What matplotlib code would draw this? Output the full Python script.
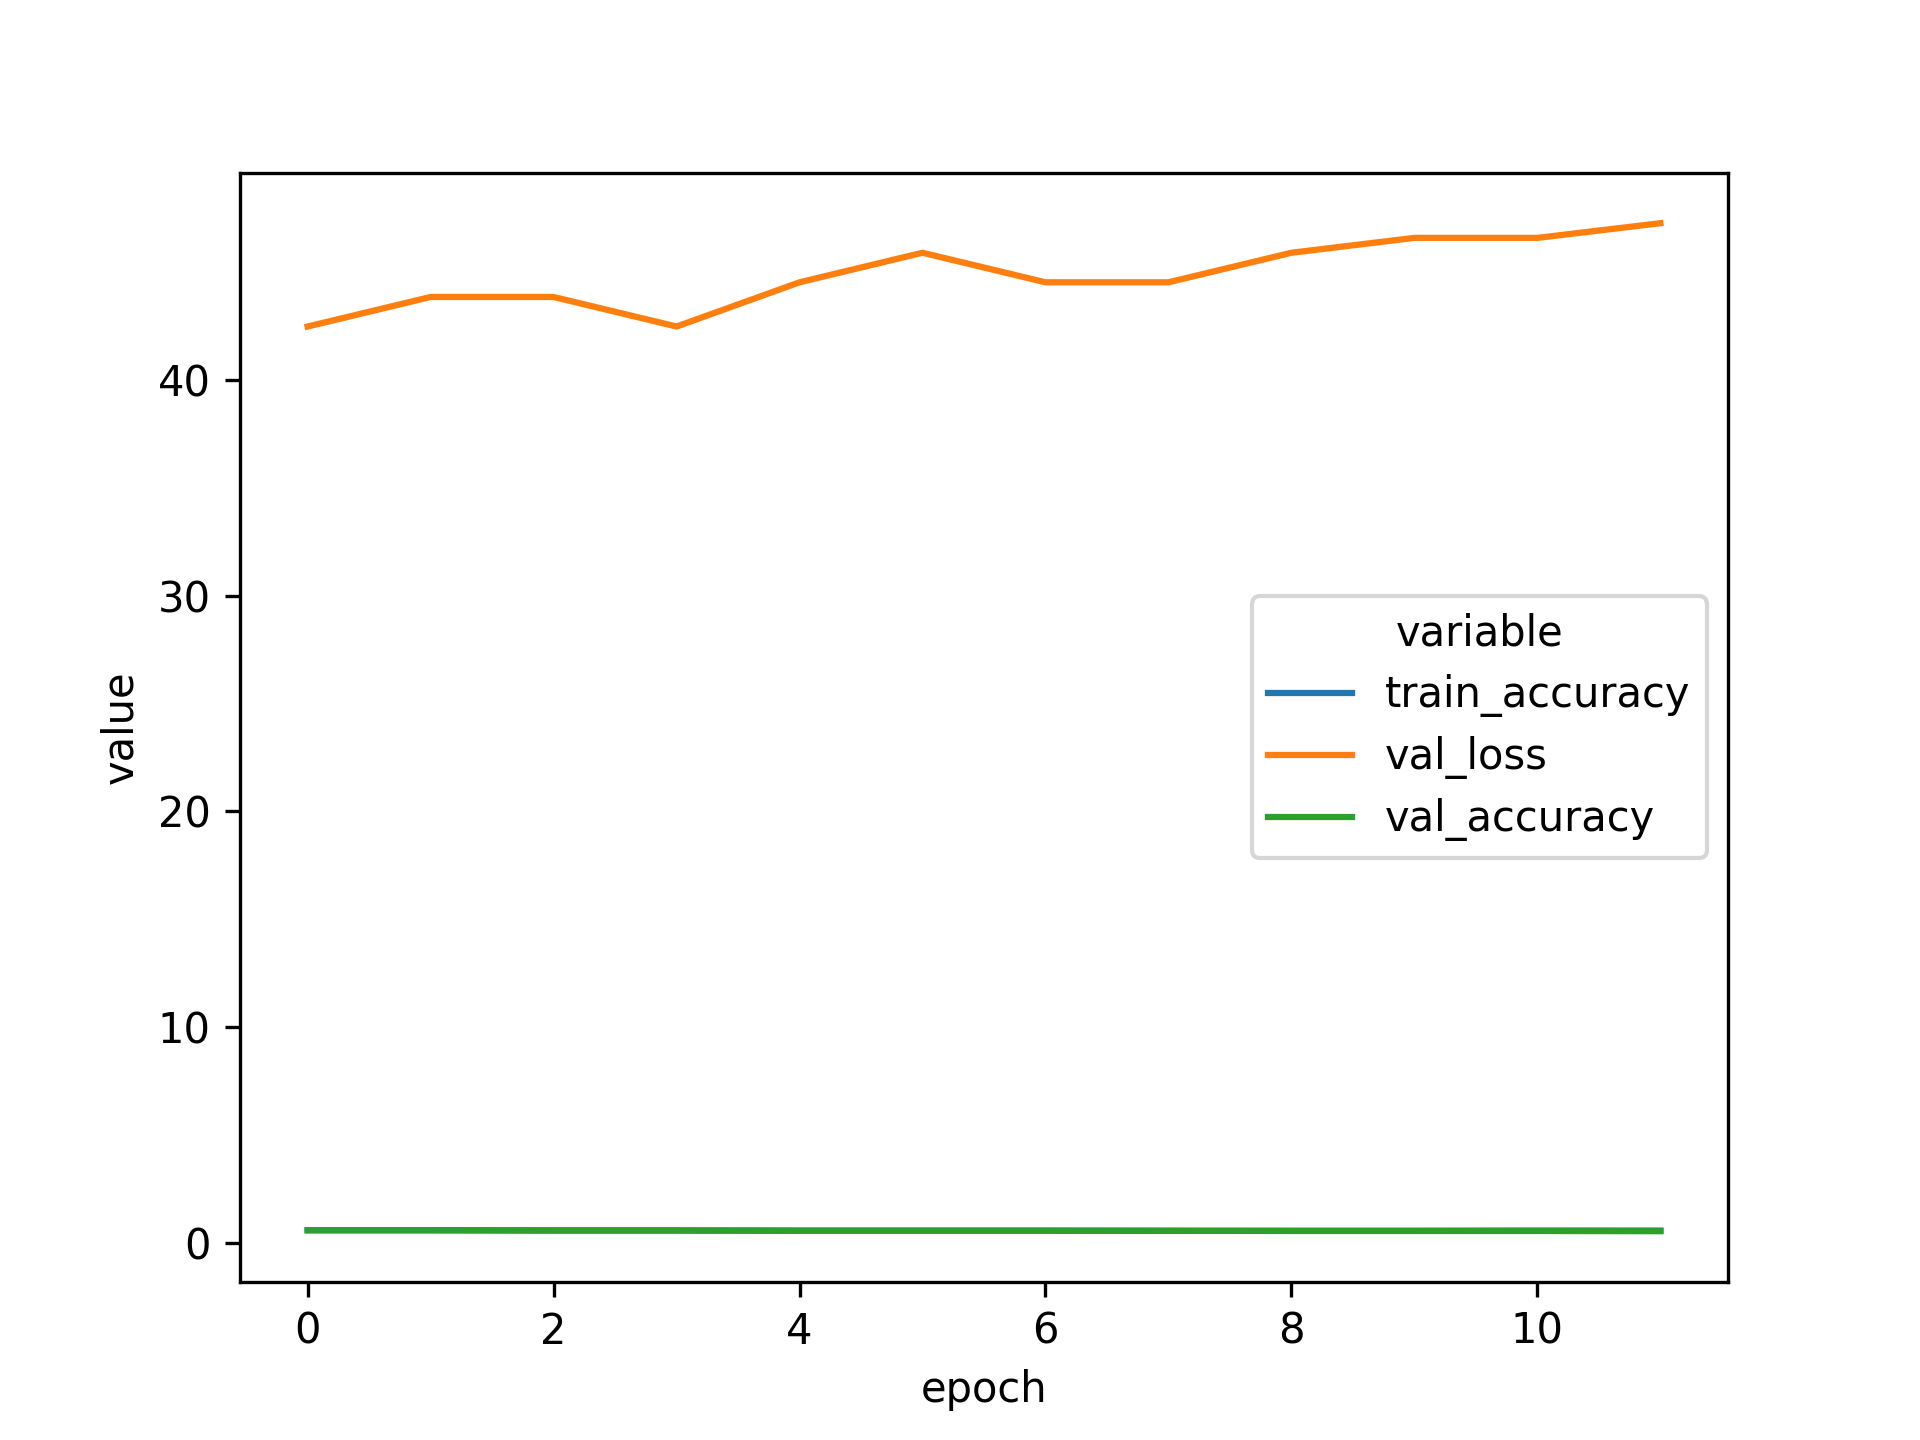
import pandas as pd
import seaborn as sns
import matplotlib
matplotlib.use('Agg')
import matplotlib.pyplot as plt

epochs = list(range(12))
train_accuracy = [0.57, 0.57, 0.56, 0.56, 0.55, 0.55, 0.55, 0.55, 0.55, 0.55, 0.56, 0.56]
val_loss = [42.47, 43.84, 43.84, 42.47, 44.52, 45.89, 44.52, 44.52, 45.89, 46.58, 46.58, 47.26]
val_accuracy = [0.58, 0.58, 0.57, 0.57, 0.56, 0.56, 0.56, 0.55, 0.54, 0.54, 0.54, 0.53]

df = pd.DataFrame({'epoch': epochs,
                   'train_accuracy': train_accuracy,
                   'val_loss': val_loss,
                   'val_accuracy': val_accuracy})
melted = df.melt(id_vars='epoch', value_vars=['train_accuracy', 'val_loss', 'val_accuracy'])

plt.rcParams['legend.labelspacing'] = 0.46
fig = plt.figure(figsize=(6.4, 4.8), dpi=300)
sns.lineplot(data=melted, x='epoch', y='value', hue='variable')
plt.savefig('out.png', dpi=300)
